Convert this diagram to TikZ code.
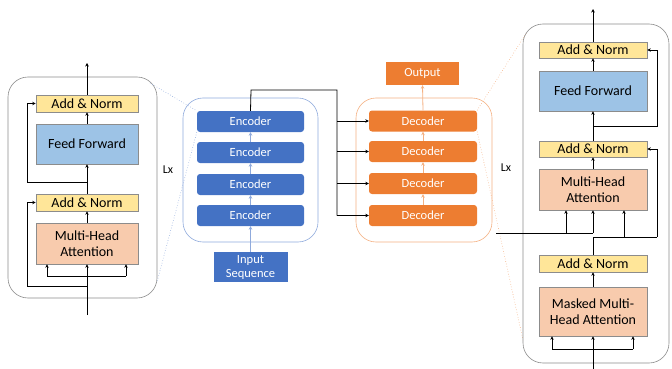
\documentclass[tikz,border=0pt]{standalone}
\usepackage{fontspec}
\setmainfont{Carlito}
\usetikzlibrary{arrows.meta,calc}
\definecolor{anfill}{HTML}{FFE699}
\definecolor{fffill}{HTML}{9DC3E6}
\definecolor{mhfill}{HTML}{F8CBAD}
\definecolor{encblue}{HTML}{4472C4}
\definecolor{decor}{HTML}{ED7D31}
\definecolor{lblue}{HTML}{8FAADC}
\definecolor{lorange}{HTML}{F4B183}
\definecolor{bordergray}{HTML}{8C8C8C}
\tikzset{
  blk/.style={draw=bordergray, line width=0.6pt, inner sep=0pt, align=center, font=\fontsize{14}{16}\selectfont},
  anorm/.style={blk, fill=anfill, minimum height=17pt},
  ffwd/.style={blk, fill=fffill, minimum height=40pt},
  mha/.style={blk, fill=mhfill},
  encbox/.style={fill=encblue, rounded corners=3pt, text=white, minimum width=107pt, minimum height=21pt, inner sep=0pt, font=\fontsize{12.5}{14}\selectfont},
  decbox/.style={fill=decor, rounded corners=3pt, text=white, minimum width=108pt, minimum height=21pt, inner sep=0pt, font=\fontsize{12.5}{14}\selectfont},
  outerbox/.style={draw=bordergray, line width=0.6pt, rounded corners=20pt},
  ar/.style={-{Stealth[length=3.5pt,width=3.5pt]}, line width=0.8pt},
  ln/.style={line width=0.8pt},
  bar/.style={-{Stealth[length=3.5pt,width=3.5pt]}, line width=0.8pt, draw=lblue},
  oar/.style={-{Stealth[length=3.5pt,width=3.5pt]}, line width=0.8pt, draw=lorange},
  lbl/.style={font=\fontsize{12}{14}\selectfont},
}
\begin{document}
\begin{tikzpicture}[x=1pt,y=-1pt]
\useasboundingbox (0,0) rectangle (672,369);
% ---------- left encoder layer ----------
\draw[outerbox] (8,77) rectangle (157,298);
\node[anorm, minimum width=102pt] (lan1) at (87,103.5) {Add \& Norm};
\node[ffwd, minimum width=102pt] (lff) at (87,144) {Feed Forward};
\node[anorm, minimum width=102pt] (lan2) at (87,202.5) {Add \& Norm};
\node[mha, minimum width=102pt, minimum height=41pt] (lmha) at (87,243.5) {Multi-Head\\Attention};
\node[lbl] (llx) at (168,170) {Lx};
\coordinate (lin) at (87,315);
\coordinate (ltop) at (87,63);
\coordinate (lsplit) at (87,276);
\coordinate (lres2) at (87,286);
\coordinate (lres1) at (87,182);
\draw[ln] (lin) -- (lsplit);
\draw[ln] (47,276) -- (126,276);
\draw[ar] (47,276) -- (lmha.south -| 47,0);
\draw[ar] (lsplit) -- (lmha.south);
\draw[ar] (126,276) -- (lmha.south -| 126,0);
\draw[ar] (lres2) -- (27,286) -- (27,202.5) -- (lan2.west);
\draw[ar] (lmha.north) -- (lan2.south);
\draw[ar] (lan2.north) -- (lff.south);
\draw[ar] (lres1) -- (27,182) -- (27,103.5) -- (lan1.west);
\draw[ar] (lff.north) -- (lan1.south);
\draw[ar] (lan1.north) -- (ltop);
% ---------- encoder stack ----------
\draw[draw=lblue, line width=0.6pt, rounded corners=20pt] (183,98) rectangle (318,242);
\node[encbox] (enc4) at (250.5,121.5) {Encoder};
\node[encbox] (enc3) at (250.5,152.5) {Encoder};
\node[encbox] (enc2) at (250.5,184.5) {Encoder};
\node[encbox] (enc1) at (250.5,215.5) {Encoder};
\node[fill=encblue, text=white, minimum width=74pt, minimum height=30pt, inner sep=0pt, align=center, font=\fontsize{12.5}{14}\selectfont] (inseq) at (250.5,267) {Input\\Sequence};
\draw[bar] (inseq.north) -- (enc1.south);
\draw[bar] (enc1.north) -- (enc2.south);
\draw[bar] (enc2.north) -- (enc3.south);
\draw[bar] (enc3.north) -- (enc4.south);
% ---------- decoder stack ----------
\draw[draw=lorange, line width=0.6pt, rounded corners=20pt] (356,98) rectangle (492,242);
\node[decbox] (dec4) at (423,121) {Decoder};
\node[decbox] (dec3) at (423,151.5) {Decoder};
\node[decbox] (dec2) at (423,183.5) {Decoder};
\node[decbox] (dec1) at (423,215.5) {Decoder};
\node[fill=decor, text=white, minimum width=73pt, minimum height=23pt, inner sep=0pt, font=\fontsize{12.5}{14}\selectfont] (out) at (422.5,73.5) {Output};
\draw[oar] (dec1.north) -- (dec2.south);
\draw[oar] (dec2.north) -- (dec3.south);
\draw[oar] (dec3.north) -- (dec4.south);
\draw[oar] (dec4.north) -- (out.south);
% encoder output to decoders
\coordinate (ebus) at (337,90);
\draw[ln] (enc4.north) -- (251,90) -- (ebus) -- (337,215.5);
\draw[ar] (337,121) -- (dec4.west);
\draw[ar] (337,151.5) -- (dec3.west);
\draw[ar] (337,183.5) -- (dec2.west);
\draw[ar] (337,215.5) -- (dec1.west);
% ---------- zoom guide lines ----------
\draw[lblue, dotted, line width=0.6pt] (150,83) -- (enc4.north west);
\draw[lblue, dotted, line width=0.6pt] (enc4.south west) -- (157,282);
\draw[lorange, dotted, line width=0.6pt] (dec4.north east) -- (527,32);
\draw[lorange, dotted, line width=0.6pt] (dec4.south east) -- (523,340);
% ---------- right decoder layer ----------
\draw[outerbox] (523,24) rectangle (669,363);
\node[anorm, minimum width=108pt, minimum height=16pt] (ran1) at (593,50) {Add \& Norm};
\node[ffwd, minimum width=108pt] (rff) at (593,91) {Feed Forward};
\node[anorm, minimum width=108pt, minimum height=16pt] (ran2) at (593,149) {Add \& Norm};
\node[mha, minimum width=108pt, minimum height=41pt] (rmha) at (593,189.5) {Multi-Head\\Attention};
\node[anorm, minimum width=108pt] (ran3) at (593,263.5) {Add \& Norm};
\node[mha, minimum width=108pt, minimum height=49pt] (rmmha) at (593,311.5) {Masked Multi-\\Head Attention};
\node[lbl] (rlx) at (506,168) {Lx};
\coordinate (rin) at (593,369);
\coordinate (rtop) at (593,9);
\coordinate (rsplit) at (593,349);
\coordinate (encout) at (496,233);
\draw[ln] (rin) -- (rsplit);
\draw[ln] (552,349) -- (633,349);
\draw[ar] (552,349) -- (rmmha.south -| 552,0);
\draw[ar] (rsplit) -- (rmmha.south);
\draw[ar] (633,349) -- (rmmha.south -| 633,0);
\draw[ar] (rmmha.north) -- (ran3.south);
\draw[ln] (ran3.north) -- (593,237) -- (657,237);
\draw[ar] (657,237) -- (657,149) -- (ran2.east);
\draw[ar] (624,237) -- (rmha.south -| 624,0);
\draw[ln] (encout) -- (593,233);
\draw[ar] (566,233) -- (rmha.south -| 566,0);
\draw[ar] (593,233) -- (rmha.south);
\draw[ar] (rmha.north) -- (ran2.south);
\draw[ar] (ran2.north) -- (rff.south);
\draw[ar] (593,126) -- (657,126) -- (657,50) -- (ran1.east);
\draw[ar] (rff.north) -- (ran1.south);
\draw[ar] (ran1.north) -- (rtop);
\end{tikzpicture}
\end{document}
